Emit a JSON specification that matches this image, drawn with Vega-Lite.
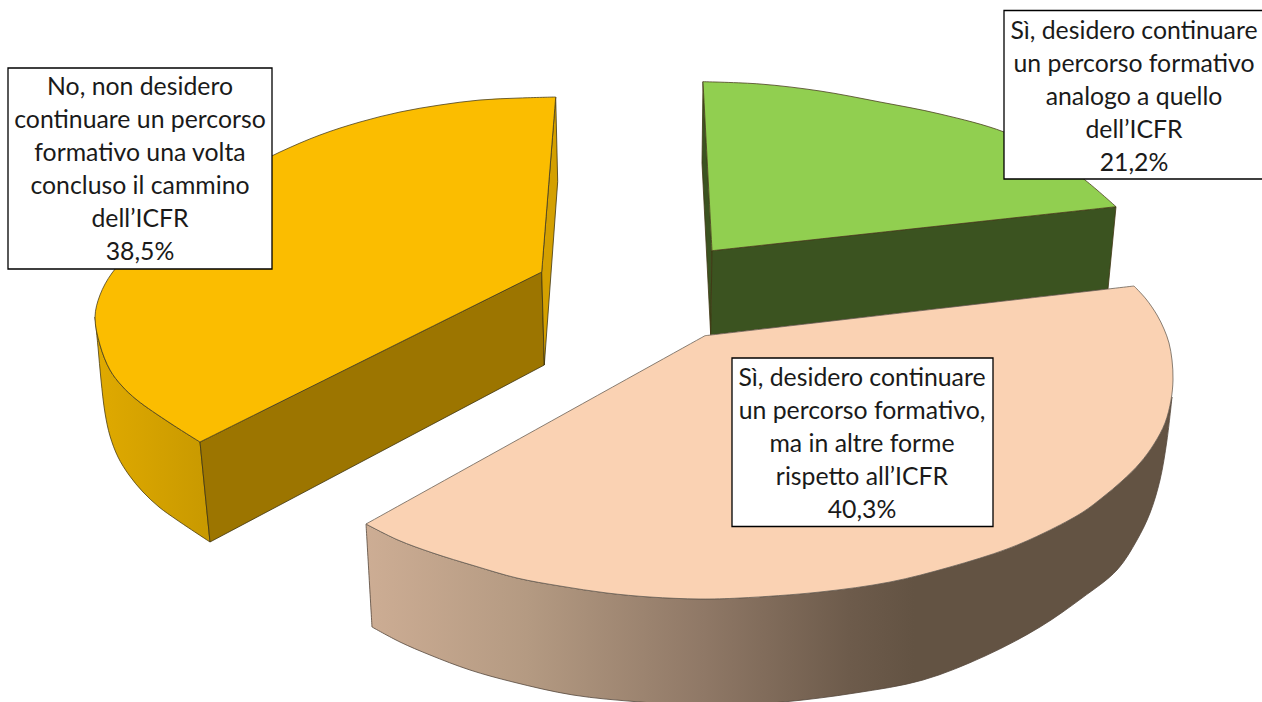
{"$schema":"https://vega.github.io/schema/vega-lite/v6.json","width":1262,"height":702,"padding":0,"autosize":{"type":"fit","contains":"padding"},"background":"#ffffff","config":{"view":{"stroke":null}},
"datasets":{"shapes":[
{"f":"yw","i":1,"x":95,"y":317},{"f":"yw","i":2,"x":95,"y":317},{"f":"yw","i":3,"x":98,"y":347},{"f":"yw","i":4,"x":101,"y":380},{"f":"yw","i":5,"x":105,"y":413},{"f":"yw","i":6,"x":110,"y":436},{"f":"yw","i":7,"x":118,"y":457},{"f":"yw","i":8,"x":129,"y":475},{"f":"yw","i":9,"x":143,"y":492},{"f":"yw","i":10,"x":159,"y":507},{"f":"yw","i":11,"x":177,"y":520},{"f":"yw","i":12,"x":210,"y":542},{"f":"yw","i":13,"x":210,"y":542},{"f":"yw","i":14,"x":210,"y":542},{"f":"yw","i":15,"x":200,"y":442},{"f":"yw","i":16,"x":200,"y":442},{"f":"yw","i":17,"x":200,"y":442},{"f":"yw","i":18,"x":170,"y":423},{"f":"yw","i":19,"x":137,"y":400},{"f":"yw","i":20,"x":122,"y":386},{"f":"yw","i":21,"x":110,"y":370},{"f":"yw","i":22,"x":100,"y":345},{"f":"yw","i":23,"x":95,"y":317},{"f":"yw","i":24,"x":95,"y":317},
{"f":"yInner","i":1,"x":200,"y":442},{"f":"yInner","i":2,"x":541.7,"y":272},{"f":"yInner","i":3,"x":544.3,"y":365},{"f":"yInner","i":4,"x":210,"y":542},{"f":"yInner","i":5,"x":200,"y":442},
{"f":"ySide","i":1,"x":555.7,"y":97},{"f":"ySide","i":2,"x":557.7,"y":181.7},{"f":"ySide","i":3,"x":544.3,"y":365},{"f":"ySide","i":4,"x":541.7,"y":272},{"f":"ySide","i":5,"x":555.7,"y":97},
{"f":"yTop","i":1,"x":541.7,"y":272},{"f":"yTop","i":2,"x":541.7,"y":272},{"f":"yTop","i":3,"x":541.7,"y":272},{"f":"yTop","i":4,"x":555.7,"y":97},{"f":"yTop","i":5,"x":555.7,"y":97},{"f":"yTop","i":6,"x":555.7,"y":97},{"f":"yTop","i":7,"x":520,"y":98},{"f":"yTop","i":8,"x":480,"y":100},{"f":"yTop","i":9,"x":440,"y":105},{"f":"yTop","i":10,"x":400,"y":112},{"f":"yTop","i":11,"x":360,"y":122},{"f":"yTop","i":12,"x":320,"y":135},{"f":"yTop","i":13,"x":280,"y":152},{"f":"yTop","i":14,"x":240,"y":172},{"f":"yTop","i":15,"x":200,"y":195},{"f":"yTop","i":16,"x":165,"y":222},{"f":"yTop","i":17,"x":135,"y":248},{"f":"yTop","i":18,"x":112,"y":273},{"f":"yTop","i":19,"x":100,"y":295},{"f":"yTop","i":20,"x":95,"y":317},{"f":"yTop","i":21,"x":100,"y":345},{"f":"yTop","i":22,"x":110,"y":370},{"f":"yTop","i":23,"x":122,"y":386},{"f":"yTop","i":24,"x":137,"y":400},{"f":"yTop","i":25,"x":170,"y":423},{"f":"yTop","i":26,"x":200,"y":442},{"f":"yTop","i":27,"x":200,"y":442},{"f":"yTop","i":28,"x":200,"y":442},{"f":"yTop","i":29,"x":541.7,"y":272},{"f":"yTop","i":30,"x":541.7,"y":272},{"f":"yTop","i":31,"x":541.7,"y":272},
{"f":"gLeft","i":1,"x":703,"y":81.7},{"f":"gLeft","i":2,"x":702,"y":163},{"f":"gLeft","i":3,"x":710.7,"y":335},{"f":"gLeft","i":4,"x":712,"y":250.7},{"f":"gLeft","i":5,"x":703,"y":81.7},
{"f":"gFront","i":1,"x":712,"y":250.7},{"f":"gFront","i":2,"x":1116,"y":206.7},{"f":"gFront","i":3,"x":1108,"y":289},{"f":"gFront","i":4,"x":710.7,"y":335},{"f":"gFront","i":5,"x":712,"y":250.7},
{"f":"gTop","i":1,"x":712,"y":250.7},{"f":"gTop","i":2,"x":712,"y":250.7},{"f":"gTop","i":3,"x":712,"y":250.7},{"f":"gTop","i":4,"x":703,"y":81.7},{"f":"gTop","i":5,"x":703,"y":81.7},{"f":"gTop","i":6,"x":703,"y":81.7},{"f":"gTop","i":7,"x":760,"y":84},{"f":"gTop","i":8,"x":820,"y":91},{"f":"gTop","i":9,"x":880,"y":102},{"f":"gTop","i":10,"x":940,"y":114},{"f":"gTop","i":11,"x":1004,"y":132},{"f":"gTop","i":12,"x":1050,"y":155},{"f":"gTop","i":13,"x":1085,"y":180},{"f":"gTop","i":14,"x":1116,"y":206.7},{"f":"gTop","i":15,"x":1116,"y":206.7},{"f":"gTop","i":16,"x":1116,"y":206.7},{"f":"gTop","i":17,"x":712,"y":250.7},{"f":"gTop","i":18,"x":712,"y":250.7},{"f":"gTop","i":19,"x":712,"y":250.7},
{"f":"pw","i":1,"x":366,"y":524},{"f":"pw","i":2,"x":366,"y":524},{"f":"pw","i":3,"x":366,"y":524},{"f":"pw","i":4,"x":372,"y":627},{"f":"pw","i":5,"x":372,"y":627},{"f":"pw","i":6,"x":372,"y":627},{"f":"pw","i":7,"x":400,"y":642},{"f":"pw","i":8,"x":430,"y":655},{"f":"pw","i":9,"x":470,"y":670},{"f":"pw","i":10,"x":513,"y":682},{"f":"pw","i":11,"x":573,"y":695},{"f":"pw","i":12,"x":640,"y":702},{"f":"pw","i":13,"x":710,"y":706},{"f":"pw","i":14,"x":783,"y":702},{"f":"pw","i":15,"x":855,"y":693},{"f":"pw","i":16,"x":923,"y":680},{"f":"pw","i":17,"x":985,"y":656},{"f":"pw","i":18,"x":1040,"y":627},{"f":"pw","i":19,"x":1082,"y":598},{"f":"pw","i":20,"x":1117,"y":570},{"f":"pw","i":21,"x":1137,"y":540},{"f":"pw","i":22,"x":1150,"y":513},{"f":"pw","i":23,"x":1160,"y":480},{"f":"pw","i":24,"x":1167,"y":440},{"f":"pw","i":25,"x":1172,"y":397},{"f":"pw","i":26,"x":1172,"y":397},{"f":"pw","i":27,"x":1165,"y":423},{"f":"pw","i":28,"x":1154,"y":444},{"f":"pw","i":29,"x":1140,"y":463},{"f":"pw","i":30,"x":1122,"y":481},{"f":"pw","i":31,"x":1103,"y":497},{"f":"pw","i":32,"x":1083,"y":512},{"f":"pw","i":33,"x":1046,"y":532},{"f":"pw","i":34,"x":1007,"y":549},{"f":"pw","i":35,"x":950,"y":567},{"f":"pw","i":36,"x":890,"y":582},{"f":"pw","i":37,"x":820,"y":592},{"f":"pw","i":38,"x":740,"y":598},{"f":"pw","i":39,"x":700,"y":599},{"f":"pw","i":40,"x":650,"y":597},{"f":"pw","i":41,"x":607,"y":593},{"f":"pw","i":42,"x":560,"y":586},{"f":"pw","i":43,"x":517,"y":578},{"f":"pw","i":44,"x":475,"y":566},{"f":"pw","i":45,"x":433,"y":553},{"f":"pw","i":46,"x":398,"y":540},{"f":"pw","i":47,"x":366,"y":524},{"f":"pw","i":48,"x":366,"y":524},
{"f":"pTop","i":1,"x":705,"y":335.7},{"f":"pTop","i":2,"x":705,"y":335.7},{"f":"pTop","i":3,"x":705,"y":335.7},{"f":"pTop","i":4,"x":1134,"y":286},{"f":"pTop","i":5,"x":1134,"y":286},{"f":"pTop","i":6,"x":1134,"y":286},{"f":"pTop","i":7,"x":1146,"y":299},{"f":"pTop","i":8,"x":1157,"y":315},{"f":"pTop","i":9,"x":1164,"y":329},{"f":"pTop","i":10,"x":1169,"y":343},{"f":"pTop","i":11,"x":1172,"y":360},{"f":"pTop","i":12,"x":1173,"y":380},{"f":"pTop","i":13,"x":1171,"y":400},{"f":"pTop","i":14,"x":1165,"y":423},{"f":"pTop","i":15,"x":1154,"y":444},{"f":"pTop","i":16,"x":1140,"y":463},{"f":"pTop","i":17,"x":1122,"y":481},{"f":"pTop","i":18,"x":1103,"y":497},{"f":"pTop","i":19,"x":1083,"y":512},{"f":"pTop","i":20,"x":1046,"y":532},{"f":"pTop","i":21,"x":1007,"y":549},{"f":"pTop","i":22,"x":950,"y":567},{"f":"pTop","i":23,"x":890,"y":582},{"f":"pTop","i":24,"x":820,"y":592},{"f":"pTop","i":25,"x":740,"y":598},{"f":"pTop","i":26,"x":700,"y":599},{"f":"pTop","i":27,"x":650,"y":597},{"f":"pTop","i":28,"x":607,"y":593},{"f":"pTop","i":29,"x":560,"y":586},{"f":"pTop","i":30,"x":517,"y":578},{"f":"pTop","i":31,"x":475,"y":566},{"f":"pTop","i":32,"x":433,"y":553},{"f":"pTop","i":33,"x":398,"y":540},{"f":"pTop","i":34,"x":366,"y":524},{"f":"pTop","i":35,"x":366,"y":524},{"f":"pTop","i":36,"x":366,"y":524},{"f":"pTop","i":37,"x":705,"y":335.7},{"f":"pTop","i":38,"x":705,"y":335.7},{"f":"pTop","i":39,"x":705,"y":335.7}
],
"labels":[
{"label":"No, non desidero\ncontinuare un percorso\nformativo una volta\nconcluso il cammino\ndell’ICFR\n38,5%","value":38.5,"x0":8,"x1":272,"y0":68,"y1":269,"cx":140,"cy":88},
{"label":"Sì, desidero continuare\nun percorso formativo\nanalogo a quello\ndell’ICFR\n21,2%","value":21.2,"x0":1004,"x1":1275,"y0":10.5,"y1":179,"cx":1134,"cy":32},
{"label":"Sì, desidero continuare\nun percorso formativo,\nma in altre forme\nrispetto all’ICFR\n40,3%","value":40.3,"x0":732,"x1":993,"y0":358,"y1":526.5,"cx":862,"cy":379}
]},
"layer":[
{"data":{"name":"shapes"},"transform":[{"filter":"datum.f==='yw'"}],"mark":{"type":"line","clip":true,"interpolate":"catmull-rom","stroke":"#4a3c10","strokeWidth":0.8,"fill":{"gradient":"linear","x1":0,"y1":0,"x2":1,"y2":0,"stops":[{"offset":0,"color":"#E0AA00"},{"offset":1,"color":"#C89900"}]}},"encoding":{"x":{"field":"x","type":"quantitative","scale":{"domain":[0,1262],"nice":false,"zero":false},"axis":null},"y":{"field":"y","type":"quantitative","scale":{"domain":[702,0],"nice":false,"zero":false},"axis":null},"order":{"field":"i","type":"quantitative"}}},
{"data":{"name":"shapes"},"transform":[{"filter":"indexof(['yInner','ySide','gLeft','gFront'],datum.f)>=0"}],"mark":{"type":"line","clip":true,"stroke":"#3f3512","strokeWidth":0.8},"encoding":{"x":{"field":"x","type":"quantitative","axis":null},"y":{"field":"y","type":"quantitative","axis":null},"order":{"field":"i","type":"quantitative"},"detail":{"field":"f"},"fill":{"field":"f","type":"nominal","legend":null,"scale":{"domain":["yInner","ySide","yTop","gLeft","gFront","gTop"],"range":["#9C7500","#D4A000","#FBBD00","#3B5320","#3B5320","#91CF50"]}}}},
{"data":{"name":"shapes"},"transform":[{"filter":"indexof(['yTop','gTop'],datum.f)>=0"}],"mark":{"type":"line","clip":true,"interpolate":"catmull-rom","stroke":"#4a4020","strokeWidth":0.8},"encoding":{"x":{"field":"x","type":"quantitative","axis":null},"y":{"field":"y","type":"quantitative","axis":null},"order":{"field":"i","type":"quantitative"},"detail":{"field":"f"},"fill":{"field":"f","type":"nominal","legend":null,"scale":{"domain":["yInner","ySide","yTop","gLeft","gFront","gTop"],"range":["#9C7500","#D4A000","#FBBD00","#3B5320","#3B5320","#91CF50"]}}}},
{"data":{"name":"shapes"},"transform":[{"filter":"datum.f==='pw'"}],"mark":{"type":"line","clip":true,"interpolate":"catmull-rom","stroke":"#55483c","strokeWidth":0.8,"fill":{"gradient":"linear","x1":0,"y1":0,"x2":1,"y2":0,"stops":[{"offset":0,"color":"#CDAD94"},{"offset":0.2,"color":"#B49A82"},{"offset":0.42,"color":"#8F7866"},{"offset":0.6,"color":"#6D5B4B"},{"offset":0.68,"color":"#635343"},{"offset":1,"color":"#635343"}]}},"encoding":{"x":{"field":"x","type":"quantitative","axis":null},"y":{"field":"y","type":"quantitative","axis":null},"order":{"field":"i","type":"quantitative"}}},
{"data":{"name":"shapes"},"transform":[{"filter":"datum.f==='pTop'"}],"mark":{"type":"line","clip":true,"interpolate":"catmull-rom","stroke":"#6b6258","strokeWidth":0.8,"fill":"#FAD2B3"},"encoding":{"x":{"field":"x","type":"quantitative","axis":null},"y":{"field":"y","type":"quantitative","axis":null},"order":{"field":"i","type":"quantitative"}}},
{"data":{"name":"labels"},"mark":{"type":"rect","clip":true,"fill":"#ffffff","stroke":"#000000","strokeWidth":1.3},"encoding":{"x":{"field":"x0","type":"quantitative","axis":null},"x2":{"field":"x1"},"y":{"field":"y0","type":"quantitative","axis":null},"y2":{"field":"y1"}}},
{"data":{"name":"labels"},"mark":{"type":"text","font":"Lato","fontSize":24.8,"color":"#1a1a1a","align":"center","baseline":"middle","lineBreak":"\n","lineHeight":33},"encoding":{"x":{"field":"cx","type":"quantitative","axis":null},"y":{"field":"cy","type":"quantitative","axis":null},"text":{"field":"label"}}}
],
"resolve":{"scale":{"x":"shared","y":"shared"}}}
